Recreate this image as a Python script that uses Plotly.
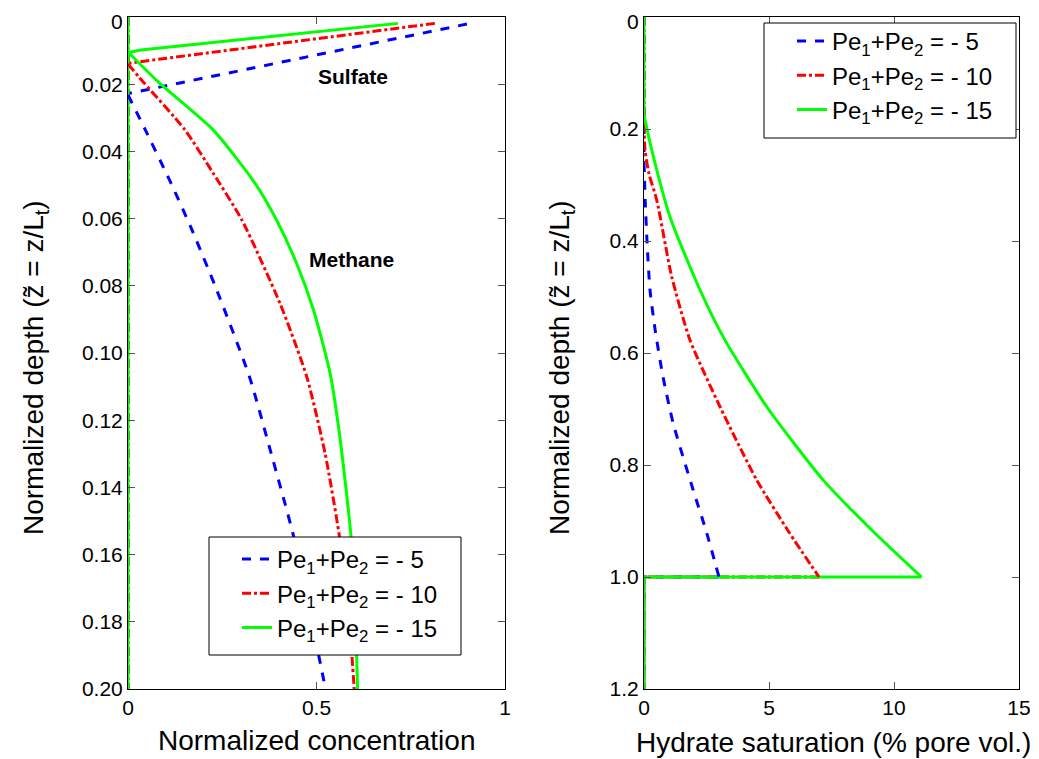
import plotly.graph_objects as go

# ---------------- data ----------------
series_names = ["Pe<sub>1</sub>+Pe<sub>2</sub> = - 5",
                "Pe<sub>1</sub>+Pe<sub>2</sub> = - 10",
                "Pe<sub>1</sub>+Pe<sub>2</sub> = - 15"]
colors = ["#0000ff", "#ff0000", "#00ff00"]
dashes = ["dash", "dashdot", "solid"]

# Left panel: sulfate (concentration, depth)
sulfate_c = [[0.899, 0.0], [0.814, 0.005, 0.0], [0.716, 0.034, 0.0]]
sulfate_z = [[0.0021, 0.0228], [0.0019, 0.0137, 0.0142], [0.0019, 0.0098, 0.0106]]

# Left panel: methane (concentration, depth)
methane_c = [
    [0.0, 0.046, 0.110, 0.166, 0.232, 0.322, 0.380, 0.438, 0.482, 0.524],
    [0.0, 0.03, 0.151, 0.226, 0.302, 0.403, 0.474, 0.523, 0.560, 0.585, 0.600],
    [0.0, 0.08, 0.226, 0.337, 0.394, 0.447, 0.492, 0.536, 0.562, 0.591, 0.602, 0.609],
]
methane_z = [
    [0.0232, 0.0336, 0.0485, 0.0624, 0.0803, 0.107, 0.130, 0.154, 0.177, 0.200],
    [0.0140, 0.018, 0.0336, 0.0465, 0.0604, 0.0852, 0.107, 0.130, 0.154, 0.177, 0.200],
    [0.0104, 0.0193, 0.0336, 0.0495, 0.0604, 0.0733, 0.0872, 0.106, 0.125, 0.154, 0.175, 0.200],
]
conc_zero_z = [0.0, 0.2]

# Right panel: hydrate saturation (% pore vol.) vs normalized depth
hydrate_s = [
    [0.0, 0.05, 0.12, 0.24, 0.45, 0.75, 1.17, 1.97, 2.5, 3.0],
    [0.0, 0.04, 0.2, 0.51, 1.11, 1.84, 3.04, 4.51, 5.8, 7.0],
    [0.0, 0.31, 1.04, 2.24, 3.24, 4.91, 7.17, 9.2, 11.1],
]
hydrate_z = [
    [0.26, 0.33, 0.40, 0.4875, 0.56, 0.64, 0.726, 0.845, 0.92, 1.0],
    [0.19, 0.2375, 0.28, 0.327, 0.464, 0.577, 0.696, 0.827, 0.92, 1.0],
    [0.175, 0.2375, 0.357, 0.4875, 0.577, 0.696, 0.827, 0.92, 1.0],
]
hydrate_max = [3.0, 7.0, 11.1]
hydrate_base_z = 1.0
hydrate_bottom_z = 1.2

left_yticks = [0, 0.02, 0.04, 0.06, 0.08, 0.10, 0.12, 0.14, 0.16, 0.18, 0.20]
left_yticktext = ["0", "0.02", "0.04", "0.06", "0.08", "0.10", "0.12", "0.14", "0.16", "0.18", "0.20"]
left_xticks = [0, 0.5, 1]
left_xticktext = ["0", "0.5", "1"]
right_yticks = [0, 0.2, 0.4, 0.6, 0.8, 1.0, 1.2]
right_yticktext = ["0", "0.2", "0.4", "0.6", "0.8", "1.0", "1.2"]
right_xticks = [0, 5, 10, 15]
right_xticktext = ["0", "5", "10", "15"]

# ---------------- figure ----------------
OFF = 8                      # page body margin
W, H = 1039 - OFF, 759 - OFF
FONT = "Liberation Sans, Arial, sans-serif"

fig = go.Figure()

for i in range(3):
    fig.add_trace(go.Scatter(
        x=sulfate_c[i] + [None, 0.0, 0.0], y=sulfate_z[i] + [None] + conc_zero_z,
        mode="lines", name=series_names[i], legendgroup="L%d" % i, showlegend=False,
        line=dict(color=colors[i], width=3, dash=dashes[i]),
        xaxis="x", yaxis="y", legend="legend"))
for i in range(3):
    fig.add_trace(go.Scatter(
        x=methane_c[i], y=methane_z[i], mode="lines", name=series_names[i],
        legendgroup="L%d" % i,
        line=dict(color=colors[i], width=3, dash=dashes[i], shape="spline", smoothing=0.6),
        xaxis="x", yaxis="y", legend="legend"))

for i in range(3):
    zx = [0.0, 0.0, None, hydrate_max[i], 0.0, 0.0]
    zy = [0.0, hydrate_z[i][0], None, hydrate_base_z, hydrate_base_z, hydrate_bottom_z]
    fig.add_trace(go.Scatter(
        x=zx, y=zy, mode="lines", name=series_names[i], legendgroup="R%d" % i,
        showlegend=False, line=dict(color=colors[i], width=3, dash=dashes[i]),
        xaxis="x2", yaxis="y2", legend="legend2"))
for i in range(3):
    fig.add_trace(go.Scatter(
        x=hydrate_s[i], y=hydrate_z[i], mode="lines", name=series_names[i],
        legendgroup="R%d" % i,
        line=dict(color=colors[i], width=3, dash=dashes[i], shape="spline", smoothing=0.6),
        xaxis="x2", yaxis="y2", legend="legend2"))

def px_x(p):
    return (p - OFF) / W

def px_y(p):
    return 1 - (p - OFF) / H

TICK_FONT = dict(family=FONT, size=21, color="black")
axis_common = dict(
    showline=True, linecolor="black", linewidth=1, mirror="ticks",
    ticks="inside", ticklen=7, tickcolor="#555555", showgrid=False, zeroline=False,
    automargin=False, tickfont=TICK_FONT,
)

TITLE_FONT = dict(family=FONT, size=28, color="black")
YTITLE = "Normalized depth (z\u0303 = z/L<sub>t</sub>)"
LEG_FONT = dict(family=FONT, size=24, color="black")

def title_ann(text, x, y, angle=0):
    return dict(text=text, x=px_x(x), y=px_y(y), xref="paper", yref="paper",
                xanchor="center", yanchor="middle", textangle=angle,
                showarrow=False, font=TITLE_FONT)

def box_shape(x0, y0, x1, y1):
    return dict(type="rect", xref="paper", yref="paper",
                x0=px_x(x0), x1=px_x(x1), y0=px_y(y1), y1=px_y(y0),
                line=dict(color="black", width=1), fillcolor="white", layer="above")

# top "0" tick labels: placed with the axis scale, nudged down so they stay inside the page
top_zero_labels = [
    dict(text=left_yticktext[0], x=px_x(128), y=left_yticks[0], xref="paper", yref="y",
         xanchor="right", yanchor="middle", xshift=-3, yshift=-4,
         showarrow=False, font=TICK_FONT),
    dict(text=right_yticktext[0], x=px_x(644), y=right_yticks[0], xref="paper", yref="y2",
         xanchor="right", yanchor="middle", xshift=-3, yshift=-4,
         showarrow=False, font=TICK_FONT),
]

legend_common = dict(xanchor="left", yanchor="top", bgcolor="rgba(0,0,0,0)",
                     borderwidth=0, font=LEG_FONT, tracegroupgap=0)

fig.update_layout(
    width=W, height=H,
    margin=dict(l=0, r=0, t=0, b=0, autoexpand=False),
    paper_bgcolor="white", plot_bgcolor="white",
    font=dict(family=FONT, color="black"),
    xaxis=dict(domain=[px_x(128), px_x(505)], range=[0, 1], anchor="y",
               tickvals=left_xticks, ticktext=left_xticktext, **axis_common),
    yaxis=dict(domain=[px_y(689), px_y(17)], range=[0.2, 0], anchor="x",
               tickvals=left_yticks[1:], ticktext=left_yticktext[1:], **axis_common),
    xaxis2=dict(domain=[px_x(644), px_x(1019)], range=[0, 15], anchor="y2",
                tickvals=right_xticks, ticktext=right_xticktext, **axis_common),
    yaxis2=dict(domain=[px_y(689), px_y(17)], range=[1.2, 0], anchor="x2",
                tickvals=right_yticks[1:], ticktext=right_yticktext[1:], **axis_common),
    legend=dict(x=px_x(237), y=px_y(537), **legend_common),
    legend2=dict(x=px_x(792), y=px_y(19), **legend_common),
    showlegend=True,
    shapes=[box_shape(209, 537, 461, 655), box_shape(764, 23, 1016, 138)],
    annotations=[
        dict(text="<b>Sulfate</b>", x=0.597, y=0.0176, xref="x", yref="y",
             xanchor="center", yanchor="middle",
             showarrow=False, font=dict(family=FONT, size=21, color="black")),
        dict(text="<b>Methane</b>", x=0.594, y=0.0723, xref="x", yref="y",
             xanchor="center", yanchor="middle",
             showarrow=False, font=dict(family=FONT, size=21, color="black")),
        title_ann("Normalized concentration", 317, 740),
        title_ann("Hydrate saturation (% pore vol.)", 833, 742),
        title_ann(YTITLE, 35, 368, -90),
        title_ann(YTITLE, 561, 368, -90),
    ] + top_zero_labels,
)

fig.write_html("out.html")
